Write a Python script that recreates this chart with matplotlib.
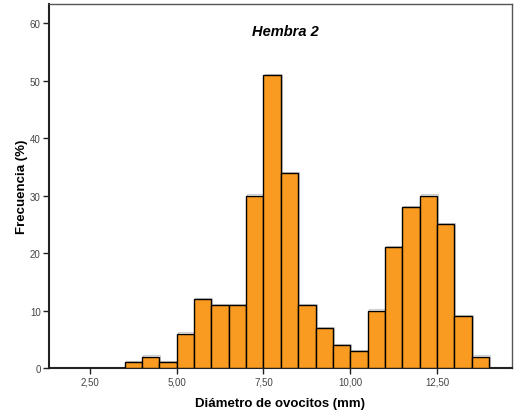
import matplotlib
matplotlib.use("Agg")
import matplotlib.pyplot as plt
import numpy as np

plt.rcParams["font.family"] = ["Liberation Sans", "DejaVu Sans"]

# histogram bins (mm) and frequencies (%)
bin_edges = [3.5, 4.0, 4.5, 5.0, 5.5, 6.0, 6.5, 7.0, 7.5, 8.0, 8.5,
             9.0, 9.5, 10.0, 10.5, 11.0, 11.5, 12.0, 12.5, 13.0, 13.5, 14.0]
freq = [1, 2, 1, 6, 12, 11, 11, 30, 51, 34, 11,
        7, 4, 3, 10, 21, 28, 30, 25, 9, 2]
x_ticks = [2.5, 5.0, 7.5, 10.0, 12.5]
x_tick_labels = ["2,50", "5,00", "7,50", "10,00", "12,50"]
y_ticks = [0, 10, 20, 30, 40, 50, 60]

fig = plt.figure(figsize=(5.15, 4.14), dpi=100)
ax = fig.add_axes([0.0951, 0.1087, 0.899, 0.879])

left = np.array(bin_edges[:-1])
width = np.diff(bin_edges)

# faint drop shadow behind each bar
ax.bar(left + 0.03, freq, width=width, align="edge", bottom=0.18,
       color="none", edgecolor="#cfcfcf", linewidth=0.8, zorder=2)
ax.bar(left, freq, width=width, align="edge", color="#f99b20",
       edgecolor="black", linewidth=1.0, zorder=3)

ax.set_xlim(1.32, 14.66)
ax.set_ylim(0, 63.3)
ax.set_xticks(x_ticks)
ax.set_xticklabels(x_tick_labels)
ax.set_yticks(y_ticks)
ax.tick_params(axis="both", labelsize=7, colors="#222222", length=4,
               width=1, pad=2)
for lbl in ax.get_xticklabels() + ax.get_yticklabels():
    lbl.set_color("#444444")

for side in ["left", "bottom"]:
    ax.spines[side].set_linewidth(1.5)
    ax.spines[side].set_color("#222222")
for side in ["top", "right"]:
    ax.spines[side].set_linewidth(1.0)
    ax.spines[side].set_color("#555555")

ax.text(0.51, 0.925, "Hembra 2", transform=ax.transAxes, ha="center",
        va="center", fontsize=10.5, fontweight="bold", fontstyle="italic")
ax.set_xlabel("Diámetro de ovocitos (mm)", fontsize=9.5, fontweight="bold",
              labelpad=8)
ax.set_ylabel("Frecuencia (%)", fontsize=9.5, fontweight="bold", labelpad=1)

fig.savefig("out.png", dpi=100)
